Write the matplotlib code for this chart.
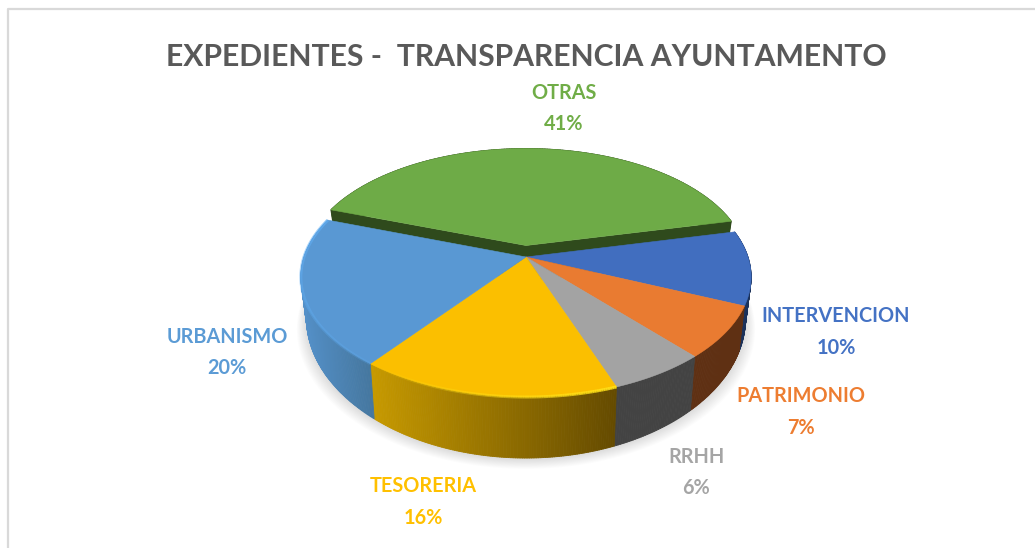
import numpy as np
import matplotlib
matplotlib.use("Agg")
import matplotlib.pyplot as plt
from matplotlib.collections import PolyCollection, LineCollection
from matplotlib.colors import to_rgb

TITLE = "EXPEDIENTES -  TRANSPARENCIA AYUNTAMENTO"
categories = ["OTRAS", "INTERVENCION", "PATRIMONIO", "RRHH", "TESORERIA", "URBANISMO"]
percent = [41, 10, 7, 6, 16, 20]

top_colors = ["#6EAB47", "#416EBF", "#E97B31", "#A3A3A3", "#FBBF00", "#5998D3"]
wall_left = ["#2F4A1C", "#1F3864", "#5F3013", "#434343", "#C79A00", "#5490C8"]
wall_right = ["#2F4A1C", "#1A3058", "#5F3013", "#434343", "#654B00", "#45779F"]
label_colors = ["#70AD47", "#4472C4", "#ED7D31", "#A5A5A5", "#FFC000", "#5B9BD5"]
label_xy = [(564, 93), (836, 316), (801, 396), (696, 457), (423, 486), (227, 337)]
rim_alpha = [0.0, 0.0, 0.0, 0.0, 0.9, 0.7]
rim_color = ["#70AD47", "#4472C4", "#ED7D31", "#C8C8C8", "#FFE21A", "#62B0F5"]

CX, CY, RX, RY, K = 526.0, 257.0, 222.0, 116.7, 1 / 6
START_CLOCK = 289.5
EXPLODE_V = 0.10
LINE_SEP = 31.5


def project(u, v):
    s = 1 / (1 + K * v)
    return CX + RX * u * s, CY - RY * v * s


def bottom(u, v):
    s = 1 / (1 + K * v)
    depth = 61 * (s / 1.2) ** 2.5
    x, y = project(u, v)
    return CX + (x - CX) * 0.975, y + depth


def arc(a0, a1, n=120):
    t = np.radians(np.linspace(a0, a1, n))
    return np.sin(t), np.cos(t)


fig = plt.figure(figsize=(10.35, 5.48), dpi=100)
ax = fig.add_axes([0, 0, 1, 1])
ax.set_xlim(0, 1035)
ax.set_ylim(548, 0)
ax.axis("off")

# frame
ax.plot([8, 8, 1035], [548, 9, 9], color="#D9D9D9", lw=1.6, zorder=1)

# soft shadow under the pie
u, v = arc(0, 360, 240)
bx, by = bottom(u, v)
for i in range(12):
    ax.fill(CX + (bx - CX) * (1.0 + 0.004 * i), by + 1.0 + 0.9 * i,
            color="black", alpha=0.012, lw=0, zorder=2)

edges = START_CLOCK + np.concatenate([[0], np.cumsum(percent)]) * 3.6

# exploded slice first, with cut faces
for i, name in enumerate(categories):
    a0, a1 = edges[i], edges[i + 1]
    ev = EXPLODE_V if i == 0 else 0.0
    au, av = arc(a0, a1, max(int(a1 - a0) * 2, 8))
    av = av + ev
    if ev:
        for j in (0, -1):
            p = [project(0, ev), project(au[j], av[j]),
                 bottom(au[j], av[j]), bottom(0, ev)]
            ax.fill(*zip(*p), color=wall_left[i], lw=0, zorder=3)
    # outer wall as gradient strips
    tx, ty = project(au, av)
    qx, qy = bottom(au, av)
    quads = [[(tx[j], ty[j]), (tx[j + 1], ty[j + 1]), (qx[j + 1], qy[j + 1]), (qx[j], qy[j])]
             for j in range(len(au) - 1)]
    c0, c1 = np.array(to_rgb(wall_left[i])), np.array(to_rgb(wall_right[i]))
    span = max(tx.max() - tx.min(), 1)
    cols = [tuple(c0 + (c1 - c0) * ((tx[j] - tx.min()) / span)) for j in range(len(au) - 1)]
    ax.add_collection(PolyCollection(quads, facecolors=cols, edgecolors=cols, lw=0.6,
                                     zorder=3 if ev else 4))
    # top face
    ax_, ay_ = project(np.r_[0, au], np.r_[ev, av])
    ax.fill(ax_, ay_, color=top_colors[i], lw=0.4, zorder=4 if ev else 5)
    # bevel rim
    if rim_alpha[i] > 0:
        segs = [[(tx[j], ty[j]), (tx[j + 1], ty[j + 1])] for j in range(len(au) - 1)]
        rc = to_rgb(rim_color[i])
        frac = np.linspace(1, 0, len(segs)) if i == 4 else np.linspace(0.3, 1, len(segs))
        rgba = [(*rc, rim_alpha[i] * f) for f in frac]
        ax.add_collection(LineCollection(segs, colors=rgba, lw=2.2, zorder=6))

# labels
for name, pct, col, (lx, ly) in zip(categories, percent, label_colors, label_xy):
    for txt, yy in ((name, ly), (f"{pct}%", ly + LINE_SEP)):
        ax.text(lx, yy, txt, color=col, family="Lato", weight="bold", fontsize=14.3,
                ha="center", va="center", zorder=8)

ax.text(526, 57, TITLE, color="#595959", family="Lato",
        weight="bold", fontsize=21.7, ha="center", va="center", zorder=8)

fig.savefig("out.png", dpi=100, facecolor="white")
